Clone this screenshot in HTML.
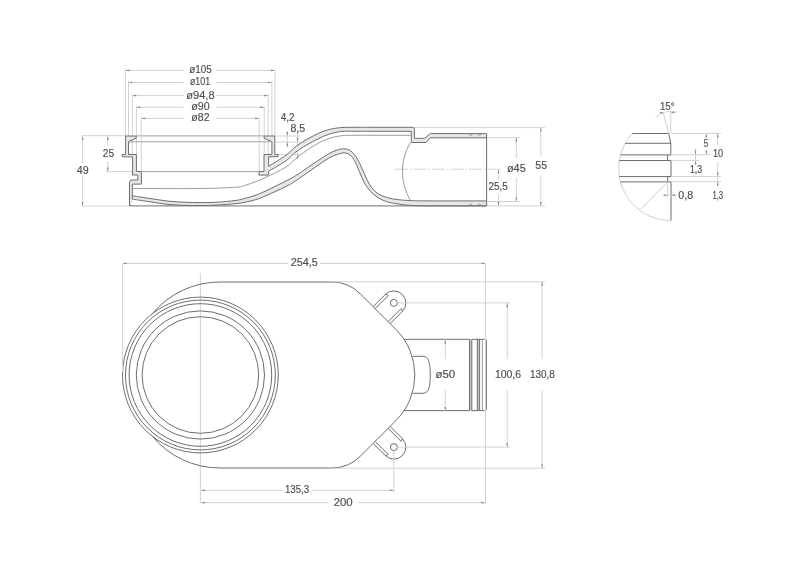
<!DOCTYPE html>
<html><head><meta charset="utf-8"><style>
html,body{margin:0;padding:0;background:#fff;}
svg{display:block;will-change:transform;}
.o{fill:none;stroke:#6e6e6e;stroke-width:1;}
.o2{fill:none;stroke:#929292;stroke-width:0.9;}
.h{fill:#e7e7e7;stroke:none;}
.d{fill:none;stroke:#d2d2d2;stroke-width:1;}
.d2{fill:none;stroke:#d0d0d0;stroke-width:1;}
.c{fill:none;stroke:#c8c8c8;stroke-width:0.8;stroke-dasharray:13 2 1.5 2;}
.a{fill:#858585;stroke:none;}
.o3{fill:none;stroke:#a4a4a4;stroke-width:1;}
.rb{fill:#c8c8c8;stroke:none;}
.cv{fill:none;stroke:#c8c8c8;stroke-width:0.8;}
.t{fill:#4e4e4e;stroke:#4e4e4e;stroke-width:0.15;font-family:"Liberation Sans",sans-serif;}
</style></head><body>
<svg width="800" height="572" viewBox="0 0 800 572">
<rect width="800" height="572" fill="#fff"/>
<line class="d" x1="125.4" y1="68.9" x2="125.4" y2="136"/>
<line class="d" x1="274.9" y1="68.9" x2="274.9" y2="136"/>
<line class="d" x1="125.4" y1="70.4" x2="183.75" y2="70.4"/>
<line class="d" x1="216.4" y1="70.4" x2="274.9" y2="70.4"/>
<path class="a" d="M125.4,70.4 L129.4,69.55 L129.4,71.25Z"/>
<path class="a" d="M274.9,70.4 L270.9,71.25 L270.9,69.55Z"/>
<text class="t" x="200.5" y="72.93" text-anchor="middle" font-size="10" textLength="22.44" lengthAdjust="spacingAndGlyphs">ø105</text>
<line class="d" x1="128.5" y1="81" x2="128.5" y2="142"/>
<line class="d" x1="271.9" y1="81" x2="271.9" y2="142"/>
<line class="d" x1="128.5" y1="82.5" x2="183.75" y2="82.5"/>
<line class="d" x1="216.4" y1="82.5" x2="271.9" y2="82.5"/>
<path class="a" d="M128.5,82.5 L132.5,81.65 L132.5,83.35Z"/>
<path class="a" d="M271.9,82.5 L267.9,83.35 L267.9,81.65Z"/>
<text class="t" x="200.06" y="85.39" text-anchor="middle" font-size="10" textLength="20.32" lengthAdjust="spacingAndGlyphs">ø101</text>
<line class="d" x1="132.25" y1="94.1" x2="132.25" y2="157"/>
<line class="d" x1="268.2" y1="94.1" x2="268.2" y2="157"/>
<line class="d" x1="132.25" y1="95.6" x2="183.75" y2="95.6"/>
<line class="d" x1="216.4" y1="95.6" x2="268.2" y2="95.6"/>
<path class="a" d="M132.25,95.6 L136.25,94.75 L136.25,96.45Z"/>
<path class="a" d="M268.2,95.6 L264.2,96.45 L264.2,94.75Z"/>
<text class="t" x="200.46" y="98.85" text-anchor="middle" font-size="10" textLength="28.28" lengthAdjust="spacingAndGlyphs">ø94,8</text>
<line class="d" x1="136.4" y1="105.8" x2="136.4" y2="154.5"/>
<line class="d" x1="264.2" y1="105.8" x2="264.2" y2="154.5"/>
<line class="d" x1="136.4" y1="107.3" x2="183.75" y2="107.3"/>
<line class="d" x1="216.4" y1="107.3" x2="264.2" y2="107.3"/>
<path class="a" d="M136.4,107.3 L140.4,106.45 L140.4,108.15Z"/>
<path class="a" d="M264.2,107.3 L260.2,108.15 L260.2,106.45Z"/>
<text class="t" x="200.46" y="109.89" text-anchor="middle" font-size="10" textLength="18.36" lengthAdjust="spacingAndGlyphs">ø90</text>
<line class="d" x1="141.25" y1="116.9" x2="141.25" y2="171.5"/>
<line class="d" x1="259.2" y1="116.9" x2="259.2" y2="171.5"/>
<line class="d" x1="141.25" y1="118.4" x2="183.75" y2="118.4"/>
<line class="d" x1="216.4" y1="118.4" x2="259.2" y2="118.4"/>
<path class="a" d="M141.25,118.4 L145.25,117.55 L145.25,119.25Z"/>
<path class="a" d="M259.2,118.4 L255.2,119.25 L255.2,117.55Z"/>
<text class="t" x="200.42" y="120.51" text-anchor="middle" font-size="10" textLength="18.28" lengthAdjust="spacingAndGlyphs">ø82</text>
<line class="d" x1="81.5" y1="135.7" x2="125.6" y2="135.7"/>
<line class="d" x1="81.5" y1="206" x2="129" y2="206"/>
<line class="d" x1="82.6" y1="136" x2="82.6" y2="163.6"/>
<line class="d" x1="82.6" y1="175.4" x2="82.6" y2="206.1"/>
<path class="a" d="M82.6,136 L83.45,140 L81.75,140Z"/>
<path class="a" d="M82.6,206.1 L81.75,202.1 L83.45,202.1Z"/>
<text class="t" x="82.77" y="173.6" text-anchor="middle" font-size="10" textLength="11.9" lengthAdjust="spacingAndGlyphs">49</text>
<line class="d" x1="106" y1="171.6" x2="132.6" y2="171.6"/>
<line class="d" x1="107.8" y1="136" x2="107.8" y2="145.5"/>
<line class="d" x1="107.8" y1="161" x2="107.8" y2="171.5"/>
<path class="a" d="M107.8,136 L108.65,140 L106.95,140Z"/>
<path class="a" d="M107.8,171.5 L106.95,167.5 L108.65,167.5Z"/>
<text class="t" x="108.44" y="156.72" text-anchor="middle" font-size="10" textLength="11.32" lengthAdjust="spacingAndGlyphs">25</text>
<line class="d" x1="276" y1="136" x2="300" y2="136"/>
<line class="d" x1="273" y1="142" x2="300" y2="142"/>
<line class="d" x1="279" y1="154.6" x2="300" y2="154.6"/>
<line class="d" x1="287.3" y1="131" x2="287.3" y2="148"/>
<path class="a" d="M287.3,136 L286.45,132 L288.15,132Z"/>
<path class="a" d="M287.3,142 L288.15,146 L286.45,146Z"/>
<text class="t" x="287.65" y="121.3" text-anchor="middle" font-size="10" textLength="13.9" lengthAdjust="spacingAndGlyphs">4,2</text>
<line class="d" x1="297.5" y1="131.5" x2="297.5" y2="158"/>
<path class="a" d="M297.5,142 L296.65,138 L298.35,138Z"/>
<path class="a" d="M297.5,154.6 L298.35,158.6 L296.65,158.6Z"/>
<text class="t" x="297.75" y="131.83" text-anchor="middle" font-size="10" textLength="14.7" lengthAdjust="spacingAndGlyphs">8,5</text>
<line class="d" x1="414" y1="127.6" x2="545" y2="127.6"/>
<line class="d" x1="487" y1="137.6" x2="520" y2="137.6"/>
<line class="d" x1="487" y1="201.5" x2="520" y2="201.5"/>
<line class="d" x1="487" y1="205.9" x2="545" y2="205.9"/>
<line class="d" x1="540.8" y1="127.6" x2="540.8" y2="156"/>
<line class="d" x1="540.8" y1="175.3" x2="540.8" y2="205.9"/>
<path class="a" d="M540.8,127.6 L541.65,131.6 L539.95,131.6Z"/>
<path class="a" d="M540.8,205.9 L539.95,201.9 L541.65,201.9Z"/>
<text class="t" x="541.23" y="169.37" text-anchor="middle" font-size="10" textLength="11.74" lengthAdjust="spacingAndGlyphs">55</text>
<line class="d" x1="516.3" y1="137.6" x2="516.3" y2="158.7"/>
<line class="d" x1="516.3" y1="178" x2="516.3" y2="201.5"/>
<path class="a" d="M516.3,137.6 L517.15,141.6 L515.45,141.6Z"/>
<path class="a" d="M516.3,201.5 L515.45,197.5 L517.15,197.5Z"/>
<text class="t" x="516.33" y="171.76" text-anchor="middle" font-size="10" textLength="18.86" lengthAdjust="spacingAndGlyphs">ø45</text>
<line class="c" x1="395" y1="169.2" x2="501" y2="169.2"/>
<line class="d" x1="498.5" y1="169.2" x2="498.5" y2="179.7"/>
<line class="d" x1="498.5" y1="194.5" x2="498.5" y2="205.9"/>
<path class="a" d="M498.5,169.2 L499.35,173.2 L497.65,173.2Z"/>
<path class="a" d="M498.5,205.9 L497.65,201.9 L499.35,201.9Z"/>
<text class="t" x="498.08" y="190.16" text-anchor="middle" font-size="10" textLength="19.36" lengthAdjust="spacingAndGlyphs">25,5</text>
<path class="h" d="M268.6,166.3 C271.5,164.47 281.43,158.63 286,155.3 C290.57,151.97 291.83,149.33 296,146.3 C300.17,143.27 306,139.75 311,137.1 C316,134.45 321.04,131.98 326,130.4 C330.96,128.82 335.92,128.12 340.75,127.6 C345.58,127.08 350.12,127.35 355,127.3 C359.88,127.25 367.5,127.3 370,127.3 L412.6,127.3 Q414.4,127.3 414.4,129.3 L414.4,138.3 L424.6,138.3 L430.4,133.6 L486.6,133.6 L486.6,137.8 L429.9,137.8 L426.2,142.5 L411.3,142.5 L411.3,131.3 L370,131.3 C367.5,131.3 359.88,131.27 355,131.3 C350.12,131.33 345.58,130.83 340.75,131.5 C335.92,132.17 330.96,133.45 326,135.3 C321.04,137.15 316,139.85 311,142.6 C306,145.35 300.17,148.77 296,151.8 C291.83,154.83 290.57,157.57 286,160.8 C281.43,164.03 271.5,169.47 268.6,171.2 Z"/>
<path class="h" d="M132.3,195.8 C134.83,196.18 141.22,197.18 147.5,198.1 C153.78,199.02 162.5,200.57 170,201.3 C177.5,202.03 185,202.33 192.5,202.5 C200,202.67 207.75,202.65 215,202.3 C222.25,201.95 230.83,201.1 236,200.4 C241.17,199.7 242.67,198.98 246,198.1 C249.33,197.22 252.67,196.32 256,195.1 C259.33,193.88 261,193.15 266,190.8 C271,188.45 281,183.55 286,181 C291,178.45 291.83,178.12 296,175.5 C300.17,172.88 306,168.63 311,165.3 C316,161.97 322,157.92 326,155.5 C330,153.08 332.07,151.92 335,150.8 C337.93,149.68 340.95,148.77 343.6,148.8 C346.25,148.83 348.67,149.4 350.9,151 C353.13,152.6 355.17,155.53 357,158.4 C358.83,161.27 360.27,164.73 361.9,168.2 C363.53,171.67 365.17,175.97 366.8,179.2 C368.43,182.43 369.85,185.2 371.7,187.6 C373.55,190 375.45,191.97 377.9,193.6 C380.35,195.23 383.35,196.43 386.4,197.4 C389.45,198.37 392.22,198.87 396.2,199.4 C400.18,199.93 404.67,200.35 410.3,200.6 C415.93,200.85 417.28,200.85 430,200.9 C442.72,200.95 477.17,200.9 486.6,200.9 L486.6,205.9 C477.17,205.9 442.72,205.98 430,205.9 C417.28,205.82 415.93,205.77 410.3,205.4 C404.67,205.03 400.18,204.33 396.2,203.7 C392.22,203.07 389.45,202.63 386.4,201.6 C383.35,200.57 380.55,199.2 377.9,197.5 C375.25,195.8 372.75,193.83 370.5,191.4 C368.25,188.97 366.23,186.17 364.4,182.9 C362.57,179.63 361.13,175.48 359.5,171.8 C357.87,168.12 356.23,163.65 354.6,160.8 C352.97,157.95 351.53,156.02 349.7,154.7 C347.87,153.38 346.05,152.82 343.6,152.9 C341.15,152.98 337.93,154.05 335,155.2 C332.07,156.35 330,157.3 326,159.8 C322,162.3 316,166.73 311,170.2 C306,173.67 300.17,177.88 296,180.6 C291.83,183.32 291,183.98 286,186.5 C281,189.02 271,193.52 266,195.7 C261,197.88 259.33,198.55 256,199.6 C252.67,200.65 249.33,201.33 246,202 C242.67,202.67 241.17,203.07 236,203.6 C230.83,204.13 222.25,204.88 215,205.2 C207.75,205.52 200,205.6 192.5,205.5 C185,205.4 177.5,205.28 170,204.6 C162.5,203.92 153.78,202.3 147.5,201.4 C141.22,200.5 134.83,199.57 132.3,199.2 Z"/>
<path class="h" d="M125.6,136 V154.5 H122.3 V156.8 H132.6 V175 H137.8 V180 H131.5 Q129.5,180 129.5,183 V206 H132.3 V184.1 H141.4 V171.5 H136.4 V154.5 H128.5 V141.6 L136.2,138.2 V136 Z"/>
<path class="h" d="M274.8,136 V154.6 H278.2 V156.7 H268.6 V175.1 H259 V171.5 H264 V154.5 H271.9 V141.6 L264.2,138.2 V136 Z"/>
<path class="o" d="M125.6,136 V154.5 H122.3 V156.8 H132.6 V175 H137.8 V180 H131.5 Q129.5,180 129.5,183 V206"/>
<path class="o" d="M125.6,136 H136.2 V138.2 L128.5,141.6 V154.5 H136.4 V171.5 H141.4 V184.1 H132.3 V199.2"/>
<path class="o" d="M274.8,136 V154.6 H278.2 V156.7 H268.6 V166.3"/>
<path class="o" d="M274.8,136 H264.2 V138.2 L271.9,141.6 V154.5 H264 V171.5 H259 V175.1 H268.6 V171.2"/>
<line class="o3" x1="136.2" y1="135.9" x2="264.2" y2="135.9"/>
<line class="o3" x1="128.5" y1="141.8" x2="271.9" y2="141.8"/>
<line class="o3" x1="141.4" y1="171.6" x2="259" y2="171.6"/>
<path class="o" d="M268.6,166.3 C271.5,164.47 281.43,158.63 286,155.3 C290.57,151.97 291.83,149.33 296,146.3 C300.17,143.27 306,139.75 311,137.1 C316,134.45 321.04,131.98 326,130.4 C330.96,128.82 335.92,128.12 340.75,127.6 C345.58,127.08 350.12,127.35 355,127.3 C359.88,127.25 367.5,127.3 370,127.3 L412.6,127.3 Q414.4,127.3 414.4,129.3 L414.4,138.3 L424.6,138.3 L430.4,133.6 L486.6,133.6"/>
<path class="o" d="M268.6,171.2 C271.5,169.47 281.43,164.03 286,160.8 C290.57,157.57 291.83,154.83 296,151.8 C300.17,148.77 306,145.35 311,142.6 C316,139.85 321.04,137.15 326,135.3 C330.96,133.45 335.92,132.17 340.75,131.5 C345.58,130.83 350.12,131.33 355,131.3 C359.88,131.27 367.5,131.3 370,131.3 L411.3,131.3 L411.3,142.5 L426.2,142.5 L429.9,137.8 L486.6,137.8"/>
<path class="o2" d="M132.3,188.5 C143.58,188.5 182.72,188.72 200,188.5 C217.28,188.28 228.33,187.77 236,187.2 C243.67,186.63 242.67,186.05 246,185.1 C249.33,184.15 252.67,182.8 256,181.5 C259.33,180.2 261,179.72 266,177.3 C271,174.88 281,170.13 286,167 C291,163.87 291.83,161.75 296,158.5 C300.17,155.25 306,150.65 311,147.5 C316,144.35 321.04,141.55 326,139.6 C330.96,137.65 335.92,136.52 340.75,135.8 C345.58,135.08 350.12,135.38 355,135.3 C359.88,135.22 367.5,135.3 370,135.3 L411.3,135.3"/>
<path class="o" d="M132.3,195.8 C134.83,196.18 141.22,197.18 147.5,198.1 C153.78,199.02 162.5,200.57 170,201.3 C177.5,202.03 185,202.33 192.5,202.5 C200,202.67 207.75,202.65 215,202.3 C222.25,201.95 230.83,201.1 236,200.4 C241.17,199.7 242.67,198.98 246,198.1 C249.33,197.22 252.67,196.32 256,195.1 C259.33,193.88 261,193.15 266,190.8 C271,188.45 281,183.55 286,181 C291,178.45 291.83,178.12 296,175.5 C300.17,172.88 306,168.63 311,165.3 C316,161.97 322,157.92 326,155.5 C330,153.08 332.07,151.92 335,150.8 C337.93,149.68 340.95,148.77 343.6,148.8 C346.25,148.83 348.67,149.4 350.9,151 C353.13,152.6 355.17,155.53 357,158.4 C358.83,161.27 360.27,164.73 361.9,168.2 C363.53,171.67 365.17,175.97 366.8,179.2 C368.43,182.43 369.85,185.2 371.7,187.6 C373.55,190 375.45,191.97 377.9,193.6 C380.35,195.23 383.35,196.43 386.4,197.4 C389.45,198.37 392.22,198.87 396.2,199.4 C400.18,199.93 404.67,200.35 410.3,200.6 C415.93,200.85 417.28,200.85 430,200.9 C442.72,200.95 477.17,200.9 486.6,200.9"/>
<path class="o" d="M132.3,199.2 C134.83,199.57 141.22,200.5 147.5,201.4 C153.78,202.3 162.5,203.92 170,204.6 C177.5,205.28 185,205.4 192.5,205.5 C200,205.6 207.75,205.52 215,205.2 C222.25,204.88 230.83,204.13 236,203.6 C241.17,203.07 242.67,202.67 246,202 C249.33,201.33 252.67,200.65 256,199.6 C259.33,198.55 261,197.88 266,195.7 C271,193.52 281,189.02 286,186.5 C291,183.98 291.83,183.32 296,180.6 C300.17,177.88 306,173.67 311,170.2 C316,166.73 322,162.3 326,159.8 C330,157.3 332.07,156.35 335,155.2 C337.93,154.05 341.15,152.98 343.6,152.9 C346.05,152.82 347.87,153.38 349.7,154.7 C351.53,156.02 352.97,157.95 354.6,160.8 C356.23,163.65 357.87,168.12 359.5,171.8 C361.13,175.48 362.57,179.63 364.4,182.9 C366.23,186.17 368.25,188.97 370.5,191.4 C372.75,193.83 375.25,195.8 377.9,197.5 C380.55,199.2 383.35,200.57 386.4,201.6 C389.45,202.63 392.22,203.07 396.2,203.7 C400.18,204.33 404.67,205.03 410.3,205.4 C415.93,205.77 417.28,205.82 430,205.9 C442.72,205.98 477.17,205.9 486.6,205.9"/>
<line class="o" x1="129.5" y1="205.9" x2="486.6" y2="205.9"/>
<path class="o2" d="M468.8,133.6 A1.8,1.6 0 0,0 472.4,133.6"/>
<path class="o2" d="M468.8,205.9 A1.8,1.6 0 0,1 472.4,205.9"/>
<path class="o2" d="M477.6,133.6 A1.8,1.6 0 0,0 481.2,133.6"/>
<path class="o2" d="M477.6,205.9 A1.8,1.6 0 0,1 481.2,205.9"/>
<line class="o" x1="486.6" y1="133.6" x2="486.6" y2="205.9"/>
<path class="o2" d="M410.3,142.4 Q394.5,171 410.3,200.6"/>
<path class="d2" d="M632.2,133.5 A52.1,52.1 0 0,0 670.8,220.6"/>
<path class="o" d="M632.2,133.5 H668.7 L670.8,143.3 V154.9 H667.6 V160.5 H671 V176.6 H667.6 V181.9 H671 V220.6"/>
<line class="o" x1="625.2" y1="143.3" x2="670.8" y2="143.3"/>
<line class="o" x1="620.5" y1="154.9" x2="667.6" y2="154.9"/>
<line class="o" x1="619.3" y1="160.5" x2="671" y2="160.5"/>
<line class="o" x1="619.3" y1="176.6" x2="671" y2="176.6"/>
<line class="o" x1="620.45" y1="181.9" x2="667.6" y2="181.9"/>
<line class="d2" x1="667.6" y1="181.9" x2="640.5" y2="209.3"/>
<line class="d" x1="670.8" y1="111" x2="670.8" y2="133.5"/>
<line class="d" x1="668.7" y1="133.5" x2="663" y2="112"/>
<path class="d" d="M655.5,117.5 A21,21 0 0,1 677,112.3"/>
<path class="a" d="M663.6,112.6 L660.22,113.94 L660.02,111.95Z"/>
<path class="a" d="M670.8,112.4 L674.35,111.58 L674.25,113.57Z"/>
<text class="t" x="667.25" y="109.55" text-anchor="middle" font-size="10" textLength="14.7" lengthAdjust="spacingAndGlyphs">15°</text>
<line class="d" x1="671" y1="133.4" x2="721" y2="133.4"/>
<line class="d" x1="671" y1="154.7" x2="710" y2="154.7"/>
<line class="d" x1="671" y1="160.4" x2="699" y2="160.4"/>
<line class="d" x1="671" y1="176.5" x2="721" y2="176.5"/>
<line class="d" x1="671" y1="181.7" x2="721" y2="181.7"/>
<line class="d" x1="706.3" y1="133.4" x2="706.3" y2="137.5"/>
<line class="d" x1="706.3" y1="149.5" x2="706.3" y2="154.7"/>
<path class="a" d="M706.3,133.4 L707.15,137.4 L705.45,137.4Z"/>
<path class="a" d="M706.3,154.7 L705.45,150.7 L707.15,150.7Z"/>
<text class="t" x="706.08" y="146.97" text-anchor="middle" font-size="10" textLength="4.44" lengthAdjust="spacingAndGlyphs">5</text>
<line class="d" x1="717.8" y1="133.4" x2="717.8" y2="145"/>
<line class="d" x1="717.8" y1="162" x2="717.8" y2="185.2"/>
<path class="a" d="M717.8,133.4 L718.65,137.4 L716.95,137.4Z"/>
<path class="a" d="M717.8,176.5 L716.95,172.5 L718.65,172.5Z"/>
<path class="a" d="M717.8,181.7 L718.65,185.7 L716.95,185.7Z"/>
<text class="t" x="718" y="157.43" text-anchor="middle" font-size="10" textLength="10.2" lengthAdjust="spacingAndGlyphs">10</text>
<line class="d" x1="695.5" y1="148.1" x2="695.5" y2="163.5"/>
<path class="a" d="M695.5,154.7 L694.65,150.7 L696.35,150.7Z"/>
<path class="a" d="M695.5,160.4 L696.35,164.4 L694.65,164.4Z"/>
<text class="t" x="696.02" y="173.3" text-anchor="middle" font-size="10" textLength="12.16" lengthAdjust="spacingAndGlyphs">1,3</text>
<text class="t" x="717.77" y="198.72" text-anchor="middle" font-size="10" textLength="10.74" lengthAdjust="spacingAndGlyphs">1,3</text>
<line class="d" x1="667.6" y1="181.9" x2="667.6" y2="197"/>
<line class="d" x1="664" y1="195.2" x2="677" y2="195.2"/>
<path class="a" d="M667.6,195.2 L663.6,196.05 L663.6,194.35Z"/>
<path class="a" d="M671,195.2 L675,194.35 L675,196.05Z"/>
<text class="t" x="685.71" y="198.72" text-anchor="middle" font-size="10" textLength="14.86" lengthAdjust="spacingAndGlyphs">0,8</text>
<line class="cv" x1="200.4" y1="273" x2="200.4" y2="503"/>
<circle class="o" cx="200.4" cy="375" r="77.9"/>
<circle class="o" cx="200.4" cy="375" r="74.9"/>
<circle class="o" cx="200.4" cy="375" r="71.3"/>
<circle class="o" cx="200.4" cy="375" r="64.1"/>
<circle class="o" cx="200.4" cy="375" r="58.3"/>
<path class="o" d="M152.43,313.62 A88,88 0 0,1 220,282 L331.93,282 A40,40 0 0,1 360.22,293.72 L396,329.5 A64.35,64.35 0 0,1 396,420.5 L360.22,456.28 A40,40 0 0,1 331.93,468 L220,468 A88,88 0 0,1 152.43,436.38"/>
<rect class="rb" x="469.5" y="339.3" width="2.3" height="71.3"/>
<rect class="rb" x="477.3" y="339.3" width="2.3" height="71.3"/>
<line class="o" x1="404.04" y1="339.3" x2="469.5" y2="339.3"/>
<line class="o" x1="404.04" y1="410.6" x2="469.5" y2="410.6"/>
<line class="o" x1="469.5" y1="339.3" x2="469.5" y2="410.6"/>
<line class="o" x1="471.8" y1="339.3" x2="471.8" y2="410.6"/>
<line class="o" x1="477.3" y1="339.3" x2="477.3" y2="410.6"/>
<line class="o" x1="479.6" y1="339.3" x2="479.6" y2="410.6"/>
<line class="o2" x1="482.4" y1="339.8" x2="482.4" y2="410.1"/>
<path class="o" d="M471.8,339.3 H484.6 Q486.4,339.3 486.4,341.1 V408.8 Q486.4,410.6 484.6,410.6 H471.8"/>
<path class="o" d="M412.3,356.3 H423 C428.3,356.3 430.3,362 430.3,375 C430.3,388 428.3,393.3 423,393.3 H412.3"/>
<path class="o" d="M373.14,306.64 L385.36,294.41 A12.0,12.0 0 0,1 402.34,311.39 L390.11,323.61"/>
<path class="o" d="M385.36,294.41 Q387.54,294.79 388.24,295.49 L375.12,308.62"/>
<path class="o" d="M402.34,311.39 Q401.96,309.21 401.26,308.51 L388.13,321.63"/>
<circle class="o" cx="393.85" cy="302.9" r="3.5"/>
<path class="o" d="M373.14,443.36 L385.36,455.59 A12.0,12.0 0 0,0 402.34,438.61 L390.11,426.39"/>
<path class="o" d="M385.36,455.59 Q387.54,455.21 388.24,454.51 L375.12,441.38"/>
<path class="o" d="M402.34,438.61 Q401.96,440.79 401.26,441.49 L388.13,428.37"/>
<circle class="o" cx="393.85" cy="447.1" r="3.5"/>
<line class="d" x1="122.6" y1="263.4" x2="122.6" y2="372"/>
<line class="d" x1="122.6" y1="263.4" x2="288" y2="263.4"/>
<line class="d" x1="320" y1="263.4" x2="485.5" y2="263.4"/>
<path class="a" d="M122.6,263.4 L126.6,262.55 L126.6,264.25Z"/>
<path class="a" d="M485.5,263.4 L481.5,264.25 L481.5,262.55Z"/>
<text class="t" x="304.27" y="266.01" text-anchor="middle" font-size="10" textLength="26.9" lengthAdjust="spacingAndGlyphs">254,5</text>
<line class="d" x1="485.5" y1="263.4" x2="485.5" y2="503.5"/>
<line class="d" x1="333" y1="281.8" x2="545" y2="281.8"/>
<line class="d" x1="333" y1="468.2" x2="545" y2="468.2"/>
<line class="d" x1="542.1" y1="281.8" x2="542.1" y2="359"/>
<line class="d" x1="542.1" y1="390" x2="542.1" y2="468.2"/>
<path class="a" d="M542.1,281.8 L542.95,285.8 L541.25,285.8Z"/>
<path class="a" d="M542.1,468.2 L541.25,464.2 L542.95,464.2Z"/>
<text class="t" x="542.31" y="377.68" text-anchor="middle" font-size="10" textLength="24.82" lengthAdjust="spacingAndGlyphs">130,8</text>
<line class="d" x1="397" y1="302.9" x2="510" y2="302.9"/>
<line class="d" x1="397" y1="447.1" x2="510" y2="447.1"/>
<line class="d" x1="507.2" y1="302.9" x2="507.2" y2="359"/>
<line class="d" x1="507.2" y1="390" x2="507.2" y2="447.1"/>
<path class="a" d="M507.2,302.9 L508.05,306.9 L506.35,306.9Z"/>
<path class="a" d="M507.2,447.1 L506.35,443.1 L508.05,443.1Z"/>
<text class="t" x="508" y="377.68" text-anchor="middle" font-size="10" textLength="26.2" lengthAdjust="spacingAndGlyphs">100,6</text>
<line class="d" x1="445.3" y1="339.4" x2="445.3" y2="359"/>
<line class="d" x1="445.3" y1="390" x2="445.3" y2="411"/>
<path class="a" d="M445.3,339.4 L446.15,343.4 L444.45,343.4Z"/>
<path class="a" d="M445.3,411 L444.45,407 L446.15,407Z"/>
<text class="t" x="445.29" y="377.82" text-anchor="middle" font-size="10" textLength="19.7" lengthAdjust="spacingAndGlyphs">ø50</text>
<line class="d" x1="393.85" y1="450.6" x2="393.85" y2="493"/>
<line class="d" x1="200.9" y1="490.3" x2="282.5" y2="490.3"/>
<line class="d" x1="311.9" y1="490.3" x2="393.85" y2="490.3"/>
<path class="a" d="M200.9,490.3 L204.9,489.45 L204.9,491.15Z"/>
<path class="a" d="M393.85,490.3 L389.85,491.15 L389.85,489.45Z"/>
<text class="t" x="297" y="493.22" text-anchor="middle" font-size="10" textLength="24.2" lengthAdjust="spacingAndGlyphs">135,3</text>
<line class="d" x1="200.9" y1="502.7" x2="328.75" y2="502.7"/>
<line class="d" x1="358.1" y1="502.7" x2="485.3" y2="502.7"/>
<path class="a" d="M200.9,502.7 L204.9,501.85 L204.9,503.55Z"/>
<path class="a" d="M485.3,502.7 L481.3,503.55 L481.3,501.85Z"/>
<text class="t" x="343.19" y="505.72" text-anchor="middle" font-size="10" textLength="19.07" lengthAdjust="spacingAndGlyphs">200</text>
</svg>
</body></html>
